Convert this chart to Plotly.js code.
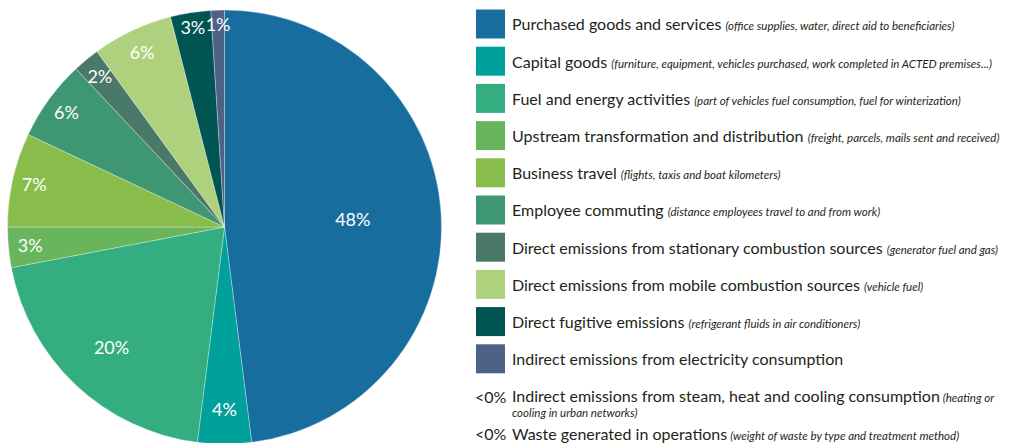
<!DOCTYPE html>
<html>
<head>
<meta charset="utf-8">
<script src="https://cdn.plot.ly/plotly-3.0.1.min.js"></script>
<style>
html,body{margin:0;padding:0;overflow:hidden;background:#fff;}
#chart{width:1016px;height:452px;}
</style>
</head>
<body>
<div id="chart"></div>
<script>
// Pie slices (clockwise from 12 o'clock)
const categories = [
  "Purchased goods and services",
  "Capital goods",
  "Fuel and energy activities",
  "Upstream transformation and distribution",
  "Business travel",
  "Employee commuting",
  "Direct emissions from stationary combustion sources",
  "Direct emissions from mobile combustion sources",
  "Direct fugitive emissions",
  "Indirect emissions from electricity consumption"
];
const notes = [
  "(office supplies, water, direct aid to beneficiaries)",
  "(furniture, equipment, vehicles purchased, work completed in ACTED premises...)",
  "(part of vehicles fuel consumption, fuel for winterization)",
  "(freight, parcels, mails sent and received)",
  "(flights, taxis and boat kilometers)",
  "(distance employees travel to and from work)",
  "(generator fuel and gas)",
  "(vehicle fuel)",
  "(refrigerant fluids in air conditioners)",
  ""
];
const values = [48, 4, 20, 3, 7, 6, 2, 6, 3, 1];
const colors = ["#176e9e", "#00a19b", "#34ad80", "#69b55d", "#89bd4b", "#3f9673", "#4a7869", "#aed17e", "#005452", "#4e6187"];

// Entries below 0% (listed, not drawn in the pie)
const zeroLabels = ["<0%", "<0%"];
const zeroCategories = [
  "Indirect emissions from steam, heat and cooling consumption",
  "Waste generated in operations"
];
const zeroNotes = [
  ["(heating or", "cooling in urban networks)"],
  ["(weight of waste by type and treatment method)", ""]
];

// Label placement style (pull of the transparent text layer, per slice)
const labelPull = [0.299, 0.246, 0.396, 0.299, 0.391, 0.373, 0.275, 0.359, 0.345, 0.293];

const W = 1016, H = 452;
const px = x => x / W;
const py = y => 1 - y / H;
const FONT = "Lato, 'Open Sans', sans-serif";
const TXT = "#231f20";

const annotations = [];
const shapes = [];
categories.forEach((c, i) => {
  const yc = 24 + i * 37.2;
  shapes.push({type: "rect", xref: "paper", yref: "paper",
    x0: px(476), x1: px(505), y0: py(yc - 14.5), y1: py(yc + 14.5),
    fillcolor: colors[i], line: {width: 0}});
  const note = notes[i] ? ' <span style="font-size:11.5px"><i>' + notes[i] + '</i></span>' : '';
  annotations.push({xref: "paper", yref: "paper", x: px(510), y: py(yc),
    xanchor: "left", yanchor: "middle", showarrow: false, align: "left",
    text: c + note, font: {family: FONT, size: 16, color: TXT}});
});
zeroCategories.forEach((c, i) => {
  const yc = 396 + i * 37.5;
  annotations.push({xref: "paper", yref: "paper", x: px(473), y: py(yc),
    xanchor: "left", yanchor: "middle", showarrow: false,
    text: zeroLabels[i], font: {family: FONT, size: 16, color: TXT}});
  let t = '<span style="font-size:16px">' + c + '</span> <i>' + zeroNotes[i][0] + '</i>';
  if (zeroNotes[i][1]) t += '<br><i>' + zeroNotes[i][1] + '</i>';
  annotations.push({xref: "paper", yref: "paper", x: px(510), y: py(zeroNotes[i][1] ? yc + 6 : yc),
    xanchor: "left", yanchor: "middle", showarrow: false, align: "left",
    text: t, font: {family: FONT, size: 11.5, color: TXT}});
});

const pieTrace = {
  type: "pie",
  labels: categories,
  values: values,
  sort: false,
  direction: "clockwise",
  rotation: 0,
  marker: {colors: colors, line: {color: "rgba(255,255,255,0.5)", width: 0.6}},
  textinfo: "none",
  hoverinfo: "label+percent",
  showlegend: false,
  domain: {x: [px(7.5), px(441.5)], y: [py(444), py(10)]}
};

// transparent layer carrying the percentage labels
const labelTrace = {
  type: "pie",
  labels: categories,
  values: values,
  sort: false,
  direction: "clockwise",
  rotation: 0,
  pull: labelPull,
  marker: {colors: categories.map(() => "rgba(0,0,0,0)"), line: {width: 0}},
  texttemplate: "%{value}%",
  textposition: "inside",
  insidetextorientation: "horizontal",
  textfont: {family: FONT, size: 18, color: "#ffffff"},
  hoverinfo: "skip",
  showlegend: false,
  domain: {x: [px(0), px(449)], y: [py(451.5), py(2.5)]}
};

const layout = {
  width: W, height: H,
  margin: {l: 0, r: 0, t: 0, b: 0},
  paper_bgcolor: "#ffffff",
  showlegend: false,
  uniformtext: {mode: "show", minsize: 18},
  annotations: annotations,
  shapes: shapes
};

Plotly.newPlot("chart", [pieTrace, labelTrace], layout, {displayModeBar: false, staticPlot: true});
</script>
</body>
</html>
